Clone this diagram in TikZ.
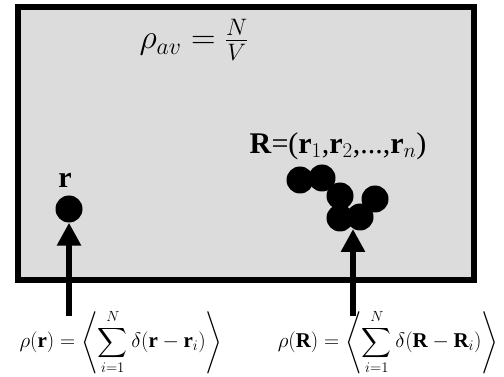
\RequirePackage{fix-cm}
\documentclass[tikz,border=0pt]{standalone}
\usepackage{amsmath}
\usepackage{fontspec}
\setmainfont{Liberation Serif}
\usepackage{tikz}
\usetikzlibrary{arrows.meta, positioning}
\definecolor{boxgray}{RGB}{220,220,220}

\begin{document}
\begin{tikzpicture}[x=1pt, y=-1pt,
    vol/.style={draw, line width=6pt, fill=boxgray, minimum width=456.5pt, minimum height=273pt, inner sep=0pt},
    particle/.style={circle, fill=black, inner sep=0pt, minimum size=27pt},
    lbl/.style={inner sep=1pt, font=\fontsize{30}{34}\selectfont},
    eqbig/.style={inner sep=1pt, font=\fontsize{34}{38}\selectfont},
    eqn/.style={inner sep=0pt, font=\fontsize{21}{25}\selectfont},
    arr/.style={-{Triangle[length=23pt, width=23pt]}, line width=6pt}]
  \useasboundingbox (0,0) rectangle (504,377);
  \node[vol] (vol) at (245.75,143.5) {};
  \node[eqbig] (rhoav) at (194,40) {$\rho_{av}=\frac{N}{V}$};
  \node[lbl] (rlbl) at (65,180) {\textbf{r}};
  \node[lbl] (Rlbl) at (338,146) {\textbf{R}=(\textbf{r}$_1$,\textbf{r}$_2$,...,\textbf{r}$_n$)};
  % single particle
  \node[particle] (p) at (69,209) {};
  % cluster of n particles
  \foreach \n/\x/\y in {c1/300/180, c2/322/178, c3/340/196, c4/375/199, c5/340/218, c6/360/217}
    \node[particle] (\n) at (\x,\y) {};
  \coordinate (tipR) at (353,229);
  \node[eqn] (rhor) at (121,342) {$\displaystyle\rho(\textbf{r})=\left\langle\sum_{i=1}^{N}\delta(\textbf{r}-\textbf{r}_i)\right\rangle$};
  \node[eqn] (rhoR) at (388,342) {$\displaystyle\rho(\textbf{R})=\left\langle\sum_{i=1}^{N}\delta(\textbf{R}-\textbf{R}_i)\right\rangle$};
  \draw[arr] ([yshift=-7pt]p |- rhor.north) -- (p.south);
  \draw[arr] ([yshift=-7pt]tipR |- rhoR.north) -- (tipR);
\end{tikzpicture}
\end{document}
